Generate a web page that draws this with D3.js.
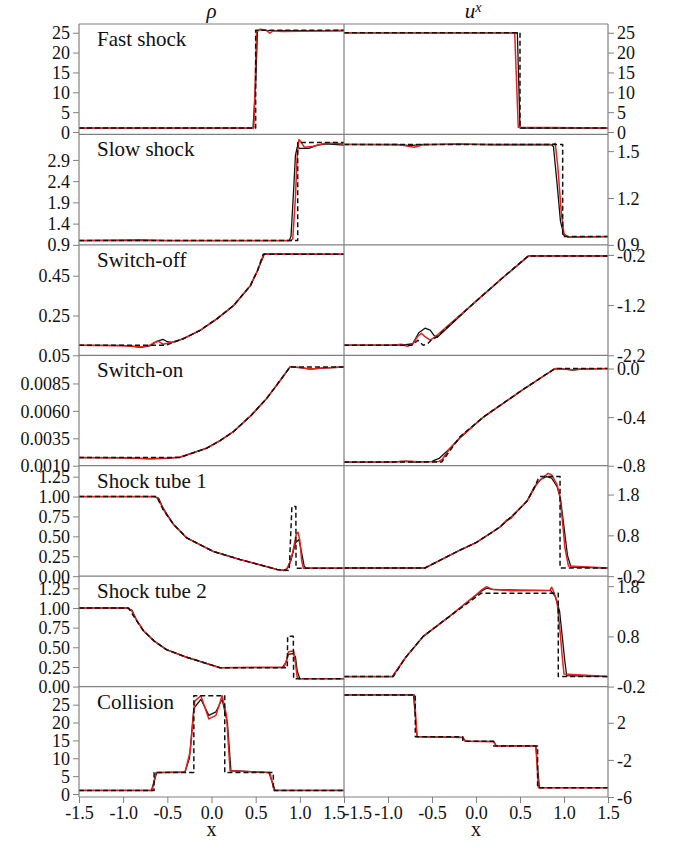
<!DOCTYPE html>
<html><head><meta charset="utf-8">
<script src="https://cdn.jsdelivr.net/npm/d3@7"></script>
<style>body{margin:0;background:#fff}svg{display:block}</style>
</head><body><svg id="c" width="678" height="846"></svg>
<script>
// ---------------- DATA ----------------
const xTicks = [-1.5, -1.0, -0.5, 0.0, 0.5, 1.0, 1.5];
const xTickLabels = ["-1.5", "-1.0", "-0.5", "0.0", "0.5", "1.0", "1.5"];
const panelNames = ["Fast shock", "Slow shock", "Switch-off", "Switch-on", "Shock tube 1", "Shock tube 2", "Collision"];

const rhoDomains = [[-0.6, 27.2], [0.9, 3.5], [0.05, 0.605], [0.001, 0.01107], [0, 1.3875], [0, 1.405], [-0.84, 30.06]];
const uDomains = [[-0.6, 27.2], [0.9, 1.607], [-2.2, 0.0], [-0.8, 0.109], [-0.2, 2.507], [-0.2, 2.0], [-6, 5.9]];

const rhoTicks = [[0, 5, 10, 15, 20, 25], [0.9, 1.4, 1.9, 2.4, 2.9], [0.05, 0.25, 0.45], [0.0010, 0.0035, 0.0060, 0.0085],
  [0, 0.25, 0.5, 0.75, 1.0, 1.25], [0, 0.25, 0.5, 0.75, 1.0, 1.25], [0, 5, 10, 15, 20, 25]];
const rhoTickLabels = [["0", "5", "10", "15", "20", "25"], ["0.9", "1.4", "1.9", "2.4", "2.9"], ["0.05", "0.25", "0.45"],
  ["0.0010", "0.0035", "0.0060", "0.0085"], ["0.00", "0.25", "0.50", "0.75", "1.00", "1.25"],
  ["0.00", "0.25", "0.50", "0.75", "1.00", "1.25"], ["0", "5", "10", "15", "20", "25"]];
const uTicks = [[0, 5, 10, 15, 20, 25], [0.9, 1.2, 1.5], [-2.2, -1.2, -0.2], [-0.8, -0.4, 0.0], [-0.2, 0.8, 1.8], [-0.2, 0.8, 1.8], [-6, -2, 2]];
const uTickLabels = [["0", "5", "10", "15", "20", "25"], ["0.9", "1.2", "1.5"], ["-2.2", "-1.2", "-0.2"], ["-0.8", "-0.4", "0.0"],
  ["-0.2", "0.8", "1.8"], ["-0.2", "0.8", "1.8"], ["-6", "-2", "2"]];

// Fast shock
const fastRhoExact = [[-1.5, 1], [0.5, 1], [0.5, 25.6], [1.5, 25.6]];
const fastRhoBlack = [[-1.5, 1], [0.47, 1], [0.5, 12], [0.52, 25.4], [0.55, 25.8], [0.6, 25.6], [0.8, 25.5], [1.5, 25.5]];
const fastRhoRed = [[-1.5, 1], [0.48, 1], [0.51, 25.3], [0.55, 25.9], [0.62, 25.6], [0.66, 24.9], [0.7, 25.5], [0.8, 25.3], [1.0, 25.4], [1.3, 25.5], [1.5, 25.6]];
const fastUExact = [[-1.5, 25], [0.5, 25], [0.5, 1], [1.5, 1]];
const fastUBlack = [[-1.5, 25], [0.47, 25], [0.5, 1], [1.5, 1]];
const fastURed = [[-1.5, 25], [0.44, 25], [0.48, 1.2], [1.5, 1]];
// Slow shock
const slowRhoExact = [[-1.5, 1], [0.976, 1], [0.976, 3.31], [1.5, 3.31]];
const slowRhoBlack = [[-1.5, 1], [0.88, 1], [0.9, 1.1], [0.93, 2.2], [0.95, 3.0], [0.97, 3.2], [1.0, 3.17], [1.1, 3.17], [1.2, 3.25], [1.3, 3.28], [1.5, 3.25]];
const slowRhoRed = [[-1.5, 1], [-0.8, 1.02], [-0.5, 1.0], [0.9, 1], [0.92, 1.05], [0.95, 2.0], [0.97, 3.0], [0.99, 3.38], [1.02, 3.3], [1.05, 3.2], [1.15, 3.22], [1.3, 3.3], [1.5, 3.28]];
const slowUExact = [[-1.5, 1.543], [0.985, 1.543], [0.985, 0.953], [1.5, 0.953]];
const slowUBlack = [[-1.5, 1.543], [-0.9, 1.543], [-0.75, 1.535], [-0.6, 1.543], [0.85, 1.543], [0.88, 1.53], [0.92, 1.3], [0.96, 1.05], [1.0, 0.96], [1.05, 0.95], [1.5, 0.953]];
const slowURed = [[-1.5, 1.543], [-0.85, 1.54], [-0.7, 1.525], [-0.6, 1.54], [-0.2, 1.548], [0.2, 1.54], [0.85, 1.54], [0.9, 1.55], [0.93, 1.4], [0.97, 1.1], [1.0, 0.97], [1.05, 0.95], [1.5, 0.953]];
// Switch-off
const offRhoExact = [[-1.5, 0.1], [-0.52, 0.1], [-0.32, 0.133], [-0.13, 0.175], [0.06, 0.233], [0.25, 0.30], [0.44, 0.40], [0.52, 0.475], [0.586, 0.558], [1.5, 0.558]];
const offRhoBlack = [[-1.5, 0.1], [-1.0, 0.1], [-0.9, 0.095], [-0.8, 0.09], [-0.7, 0.097], [-0.62, 0.12], [-0.55, 0.13], [-0.5, 0.118], [-0.45, 0.115], [-0.32, 0.133], [-0.13, 0.175], [0.06, 0.233], [0.25, 0.30], [0.44, 0.40], [0.52, 0.475], [0.6, 0.56], [1.5, 0.558]];
const offRhoRed = [[-1.5, 0.1], [-0.9, 0.097], [-0.8, 0.092], [-0.7, 0.1], [-0.65, 0.114], [-0.6, 0.12], [-0.55, 0.106], [-0.5, 0.11], [-0.45, 0.115], [-0.32, 0.133], [-0.13, 0.175], [0.06, 0.233], [0.25, 0.30], [0.44, 0.40], [0.52, 0.475], [0.59, 0.558], [1.5, 0.558]];
const offUExact = [[-1.5, -2.0], [-0.73, -2.0], [-0.66, -1.9], [-0.6, -2.0], [-0.55, -1.97], [-0.5, -1.88], [-0.45, -1.84], [-0.03, -1.17], [0.3, -0.66], [0.594, -0.22], [1.5, -0.22]];
const offUBlack = [[-1.5, -2.0], [-1.0, -2.0], [-0.8, -1.99], [-0.72, -1.97], [-0.65, -1.75], [-0.58, -1.66], [-0.52, -1.7], [-0.48, -1.8], [-0.44, -1.84], [-0.03, -1.17], [0.3, -0.66], [0.6, -0.22], [1.5, -0.22]];
const offURed = [[-1.5, -2.0], [-0.95, -2.0], [-0.85, -1.98], [-0.78, -2.02], [-0.72, -1.98], [-0.66, -1.82], [-0.62, -1.76], [-0.58, -1.83], [-0.52, -1.9], [-0.47, -1.84], [-0.03, -1.17], [0.3, -0.66], [0.594, -0.22], [1.5, -0.22]];
// Switch-on
const onRhoExact = [[-1.5, 0.00174], [-0.357, 0.00175], [-0.054, 0.0026], [0.1, 0.0033], [0.247, 0.0041], [0.45, 0.0056], [0.625, 0.00714], [0.78, 0.0088], [0.889, 0.01001], [1.5, 0.01001]];
const onRhoBlack = [[-1.5, 0.00174], [-1.0, 0.00172], [-0.7, 0.00163], [-0.5, 0.00168], [-0.357, 0.00178], [-0.054, 0.0026], [0.1, 0.0033], [0.247, 0.0041], [0.45, 0.0056], [0.625, 0.00714], [0.78, 0.0088], [0.889, 0.01001], [1.0, 0.00995], [1.12, 0.0098], [1.25, 0.0099], [1.5, 0.01]];
const onRhoRed = [[-1.5, 0.00174], [-1.0, 0.00173], [-0.7, 0.00165], [-0.5, 0.0017], [-0.357, 0.00177], [-0.054, 0.0026], [0.1, 0.0033], [0.247, 0.0041], [0.45, 0.0056], [0.625, 0.00714], [0.78, 0.0088], [0.889, 0.01001], [1.0, 0.00996], [1.12, 0.00982], [1.25, 0.0099], [1.5, 0.01]];
const onUExact = [[-1.5, -0.77], [-0.39, -0.77], [-0.18, -0.56], [0.083, -0.4], [0.54, -0.17], [0.898, 0.0], [1.5, 0.0]];
const onUBlack = [[-1.5, -0.77], [-1.0, -0.77], [-0.85, -0.765], [-0.7, -0.77], [-0.5, -0.765], [-0.42, -0.74], [-0.3, -0.66], [-0.18, -0.57], [0.083, -0.4], [0.54, -0.17], [0.898, 0.0], [1.0, -0.005], [1.1, -0.012], [1.2, -0.004], [1.5, 0.0]];
const onURed = [[-1.5, -0.77], [-0.9, -0.77], [-0.8, -0.762], [-0.6, -0.77], [-0.42, -0.765], [-0.38, -0.745], [-0.3, -0.66], [-0.18, -0.565], [0.083, -0.4], [0.54, -0.17], [0.898, 0.0], [1.0, -0.004], [1.1, -0.01], [1.2, -0.003], [1.5, 0.0]];
// Shock tube 1
const st1RhoExact = [[-1.5, 1], [-0.62, 1], [-0.55, 0.84], [-0.5, 0.76], [-0.43, 0.65], [-0.28, 0.48], [0.02, 0.31], [0.32, 0.21], [0.74, 0.084], [0.88, 0.07], [0.91, 0.875], [0.955, 0.875], [0.957, 0.1], [1.5, 0.1]];
const st1RhoBlack = [[-1.5, 1], [-0.65, 1], [-0.6, 0.98], [-0.55, 0.86], [-0.5, 0.77], [-0.43, 0.65], [-0.28, 0.48], [0.02, 0.31], [0.32, 0.21], [0.74, 0.084], [0.82, 0.07], [0.86, 0.1], [0.9, 0.2], [0.95, 0.42], [0.99, 0.46], [1.02, 0.3], [1.05, 0.12], [1.08, 0.1], [1.5, 0.1]];
const st1RhoRed = [[-1.5, 1], [-0.64, 1], [-0.6, 0.97], [-0.55, 0.85], [-0.5, 0.76], [-0.43, 0.65], [-0.28, 0.48], [0.02, 0.31], [0.32, 0.21], [0.74, 0.084], [0.84, 0.07], [0.88, 0.15], [0.92, 0.3], [0.96, 0.53], [0.98, 0.55], [1.0, 0.45], [1.02, 0.2], [1.04, 0.1], [1.5, 0.1]];
const st1UExact = [[-1.5, 0], [-0.58, 0], [-0.2, 0.42], [0.0, 0.62], [0.27, 1.0], [0.45, 1.35], [0.58, 1.64], [0.66, 1.95], [0.71, 2.2], [0.73, 2.24], [0.955, 2.24], [0.955, 0], [1.5, 0]];
const st1UBlack = [[-1.5, 0], [-0.58, 0], [-0.2, 0.42], [0.0, 0.62], [0.27, 1.0], [0.45, 1.35], [0.58, 1.64], [0.66, 1.98], [0.74, 2.18], [0.8, 2.24], [0.86, 2.2], [0.92, 2.0], [0.96, 1.7], [1.0, 1.0], [1.04, 0.3], [1.08, 0.02], [1.5, 0]];
const st1URed = [[-1.5, 0], [-0.58, 0], [-0.2, 0.42], [0.0, 0.62], [0.27, 1.0], [0.35, 1.18], [0.4, 1.22], [0.45, 1.36], [0.58, 1.64], [0.7, 2.1], [0.78, 2.25], [0.82, 2.32], [0.86, 2.28], [0.92, 2.05], [0.95, 1.8], [0.98, 1.2], [1.01, 0.5], [1.05, 0.05], [1.5, 0]];
// Shock tube 2
const st2RhoExact = [[-1.5, 1], [-0.94, 1], [-0.85, 0.84], [-0.77, 0.71], [-0.65, 0.58], [-0.51, 0.47], [-0.3, 0.38], [-0.13, 0.32], [0.096, 0.24], [0.858, 0.239], [0.862, 0.64], [0.926, 0.64], [0.93, 0.1], [1.5, 0.1]];
const st2RhoBlack = [[-1.5, 1], [-0.95, 1], [-0.9, 0.97], [-0.85, 0.85], [-0.77, 0.71], [-0.65, 0.58], [-0.51, 0.47], [-0.3, 0.38], [-0.13, 0.32], [0.096, 0.24], [0.8, 0.24], [0.84, 0.3], [0.87, 0.41], [0.92, 0.42], [0.95, 0.38], [0.97, 0.2], [1.0, 0.1], [1.5, 0.1]];
const st2RhoRed = [[-1.5, 1], [-0.95, 1], [-0.9, 0.96], [-0.85, 0.85], [-0.77, 0.71], [-0.65, 0.58], [-0.51, 0.47], [-0.3, 0.38], [-0.13, 0.32], [0.096, 0.24], [0.82, 0.25], [0.85, 0.33], [0.87, 0.44], [0.9, 0.45], [0.93, 0.45], [0.95, 0.3], [0.97, 0.12], [0.99, 0.1], [1.5, 0.1]];
const st2UExact = [[-1.5, 0], [-0.94, 0], [-0.8, 0.38], [-0.6, 0.8], [-0.3, 1.2], [0.06, 1.66], [0.935, 1.66], [0.935, 0], [1.5, 0]];
const st2UBlack = [[-1.5, 0], [-0.95, 0], [-0.8, 0.38], [-0.6, 0.8], [-0.3, 1.2], [0.0, 1.62], [0.06, 1.7], [0.12, 1.76], [0.2, 1.73], [0.5, 1.72], [0.85, 1.71], [0.9, 1.6], [0.95, 1.3], [0.98, 0.8], [1.01, 0.3], [1.03, 0.02], [1.5, 0]];
const st2URed = [[-1.5, 0], [-0.95, 0], [-0.8, 0.38], [-0.6, 0.8], [-0.3, 1.2], [0.0, 1.63], [0.06, 1.72], [0.12, 1.79], [0.18, 1.74], [0.4, 1.71], [0.84, 1.72], [0.86, 1.78], [0.88, 1.7], [0.92, 1.5], [0.95, 1.0], [0.98, 0.4], [1.0, 0.05], [1.5, 0]];
// Collision
const colRhoExact = [[-1.5, 1], [-0.65, 1], [-0.65, 6], [-0.2, 6], [-0.2, 27.5], [0.15, 27.5], [0.15, 6], [0.7, 6], [0.7, 1], [1.5, 1]];
const colRhoBlack = [[-1.5, 1], [-0.68, 1], [-0.62, 6], [-0.3, 6.2], [-0.25, 10], [-0.2, 24], [-0.12, 26.5], [-0.03, 22], [0.05, 23], [0.12, 26.5], [0.18, 20], [0.22, 6.5], [0.65, 6], [0.72, 1], [1.5, 1]];
const colRhoRed = [[-1.5, 1], [-0.67, 1], [-0.63, 6], [-0.3, 6.1], [-0.24, 12], [-0.19, 26], [-0.12, 27.5], [-0.03, 21], [0.05, 22], [0.12, 27.5], [0.17, 22], [0.21, 6.5], [0.66, 6], [0.71, 1], [1.5, 1]];
const colUExact = [[-1.5, 5], [-0.69, 5], [-0.69, 0.5], [-0.15, 0.5], [-0.15, 0], [0.2, 0], [0.2, -0.5], [0.7, -0.5], [0.7, -5], [1.5, -5]];
const colUBlack = [[-1.5, 5], [-0.71, 5], [-0.67, 0.5], [-0.15, 0.4], [-0.12, 0], [0.2, 0], [0.23, -0.5], [0.68, -0.5], [0.72, -5], [1.5, -5]];
const colURed = [[-1.5, 5], [-0.7, 5], [-0.67, 0.5], [-0.15, 0.45], [-0.12, 0], [0.2, -0.05], [0.23, -0.5], [0.68, -0.5], [0.71, -5], [1.5, -5]];

const rhoSeries = [
  [fastRhoBlack, fastRhoRed, fastRhoExact], [slowRhoBlack, slowRhoRed, slowRhoExact], [offRhoBlack, offRhoRed, offRhoExact],
  [onRhoBlack, onRhoRed, onRhoExact], [st1RhoBlack, st1RhoRed, st1RhoExact], [st2RhoBlack, st2RhoRed, st2RhoExact],
  [colRhoBlack, colRhoRed, colRhoExact]];
const uSeries = [
  [fastUBlack, fastURed, fastUExact], [slowUBlack, slowURed, slowUExact], [offUBlack, offURed, offUExact],
  [onUBlack, onURed, onUExact], [st1UBlack, st1URed, st1UExact], [st2UBlack, st2URed, st2UExact],
  [colUBlack, colURed, colUExact]];

// ---------------- DRAW ----------------
const svg = d3.select("#c");
const FONT = "'Liberation Serif', 'DejaVu Serif', serif";
const pLeft = 79, pMid = 344, pRight = 608, pTop = 24, pBottom = 797;
const nRows = 7;
const rowH = (pBottom - pTop) / nRows;
const frameColor = "#808080";
const styles = [
  { stroke: "#111", width: 1.3, dash: null },
  { stroke: "#e8201c", width: 1.5, dash: null },
  { stroke: "#111", width: 1.5, dash: "5,3" }
];

const xL = d3.scaleLinear().domain([-1.5, 1.5]).range([pLeft, pMid]);
const xR = d3.scaleLinear().domain([-1.5, 1.5]).range([pMid, pRight]);

function drawPanel(g, x, y, series, clipId) {
  const line = d3.line().x(d => x(d[0])).y(d => y(d[1]));
  const gl = g.append("g").attr("clip-path", `url(#${clipId})`);
  series.forEach((s, i) => {
    gl.append("path").attr("d", line(s)).attr("fill", "none")
      .attr("stroke", styles[i].stroke).attr("stroke-width", styles[i].width)
      .attr("stroke-dasharray", styles[i].dash).attr("stroke-linejoin", "round");
  });
}

const defs = svg.append("defs");
for (let r = 0; r < nRows; r++) {
  const y0 = pTop + r * rowH, y1 = pTop + (r + 1) * rowH;
  const yL = d3.scaleLinear().domain(rhoDomains[r]).range([y1, y0]);
  const yR = d3.scaleLinear().domain(uDomains[r]).range([y1, y0]);
  ["L", "R"].forEach((side, k) => {
    defs.append("clipPath").attr("id", `clip${side}${r}`).append("rect")
      .attr("x", k === 0 ? pLeft : pMid).attr("y", y0).attr("width", k === 0 ? pMid - pLeft : pRight - pMid).attr("height", rowH);
  });
  drawPanel(svg, xL, yL, rhoSeries[r], `clipL${r}`);
  drawPanel(svg, xR, yR, uSeries[r], `clipR${r}`);

  const axL = svg.append("g").attr("transform", `translate(${pLeft},0)`)
    .call(d3.axisLeft(yL).tickValues(rhoTicks[r]).tickFormat((d, i) => rhoTickLabels[r][i]).tickSize(6).tickPadding(3));
  const axR = svg.append("g").attr("transform", `translate(${pRight},0)`)
    .call(d3.axisRight(yR).tickValues(uTicks[r]).tickFormat((d, i) => uTickLabels[r][i]).tickSize(6).tickPadding(3));
  [axL, axR].forEach(a => {
    a.select(".domain").remove();
    a.selectAll("line").attr("stroke", frameColor);
    a.selectAll("text").attr("font-family", FONT).attr("font-size", 18).attr("fill", "#111").attr("dy", "0.34em");
  });

  svg.append("text").attr("x", pLeft + 18).attr("y", y0 + 22).text(panelNames[r])
    .attr("font-family", FONT).attr("font-size", 21).attr("fill", "#111");
}

for (let r = 0; r <= nRows; r++) {
  svg.append("line").attr("x1", pLeft).attr("x2", pRight).attr("y1", pTop + r * rowH).attr("y2", pTop + r * rowH)
    .attr("stroke", frameColor).attr("stroke-width", 1.2);
}
[pLeft, pMid, pRight].forEach(xx => svg.append("line").attr("x1", xx).attr("x2", xx).attr("y1", pTop).attr("y2", pBottom)
  .attr("stroke", frameColor).attr("stroke-width", 1.2));

[xL, xR].forEach((x, k) => {
  const a = svg.append("g").attr("transform", `translate(0,${pBottom})`)
    .call(d3.axisBottom(x).tickValues(xTicks).tickFormat((d, i) => xTickLabels[i]).tickSize(6).tickPadding(3));
  a.select(".domain").remove();
  a.selectAll("line").attr("stroke", frameColor);
  a.selectAll("text").attr("font-family", FONT).attr("font-size", 18).attr("fill", "#111");
  // shared middle tick: keep both labels readable side by side
  a.selectAll(".tick").filter((d, i) => (k === 0 && i === xTicks.length - 1) || (k === 1 && i === 0))
    .select("text").attr("text-anchor", k === 0 ? "end" : "start").attr("dx", k === 0 ? 1 : -1);
  svg.append("text").attr("x", (x.range()[0] + x.range()[1]) / 2).attr("y", 836).attr("text-anchor", "middle")
    .attr("font-family", FONT).attr("font-size", 20).attr("fill", "#111").text("x");
});

svg.append("text").attr("x", (pLeft + pMid) / 2).attr("y", 18).attr("text-anchor", "middle")
  .attr("font-family", FONT).attr("font-style", "italic").attr("font-size", 21).attr("fill", "#111").text("ρ");
const ut = svg.append("text").attr("x", (pMid + pRight) / 2 - 3).attr("y", 18).attr("text-anchor", "middle")
  .attr("font-family", FONT).attr("font-style", "italic").attr("font-size", 21).attr("fill", "#111");
ut.append("tspan").text("u");
ut.append("tspan").attr("dy", -6).attr("font-size", 14).text("x");
</script></body></html>
